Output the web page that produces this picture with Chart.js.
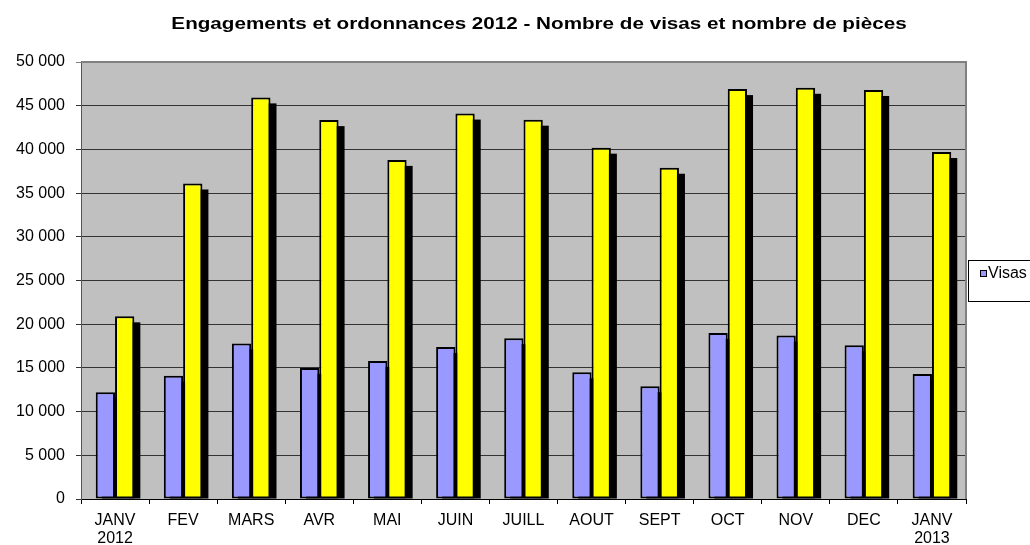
<!DOCTYPE html>
<html>
<head>
<meta charset="utf-8">
<script src="https://cdn.jsdelivr.net/npm/chart.js@4.4.1/dist/chart.umd.min.js"></script>
<style>
  html, body { margin: 0; padding: 0; background: #ffffff; }
  #wrap { width: 1030px; height: 545px; }
</style>
</head>
<body>
<div id="wrap"><canvas id="c" width="1030" height="545"></canvas></div>
<script>
const TITLE = 'Engagements et ordonnances 2012 - Nombre de visas et nombre de pièces';
const categories = [['JANV', '2012'], 'FEV', 'MARS', 'AVR', 'MAI', 'JUIN', 'JUILL', 'AOUT', 'SEPT', 'OCT', 'NOV', 'DEC', ['JANV', '2013']];
const seriesNames = ['Visas', 'Pièces'];
const visas  = [12200, 14100, 17800, 15000, 15800, 17400, 18400, 14500, 12900, 19000, 18700, 17600, 14300];
const pieces = [20900, 36100, 45950, 43350, 38800, 44100, 43400, 40200, 37900, 46900, 47050, 46800, 39700];
const yMin = 0, yMax = 50000, yStep = 5000;

const FONT = '"Liberation Sans", Arial, sans-serif';

function fmt(v) {
  return String(v).replace(/\B(?=(\d{3})+(?!\d))/g, ' ');
}

const backgroundPlugin = {
  id: 'plotBg',
  beforeDraw(chart) {
    const { ctx, chartArea: a } = chart;
    ctx.save();
    ctx.fillStyle = '#ffffff';
    ctx.fillRect(0, 0, chart.width, chart.height);
    ctx.fillStyle = '#C0C0C0';
    ctx.fillRect(a.left, a.top, a.right - a.left, a.bottom - a.top);
    ctx.restore();
  },
  beforeDatasetsDraw(chart) {
    const { ctx, chartArea: a } = chart;
    ctx.save();
    // plot border (top / right)
    ctx.strokeStyle = '#808080';
    ctx.lineWidth = 2;
    ctx.beginPath();
    ctx.moveTo(a.left, a.top);
    ctx.lineTo(a.right, a.top);
    ctx.lineTo(a.right, a.bottom);
    ctx.stroke();
    // drop shadows of bars
    ctx.fillStyle = '#000000';
    chart.data.datasets.forEach((ds, i) => {
      const meta = chart.getDatasetMeta(i);
      meta.data.forEach(bar => {
        const p = bar.getProps(['x', 'y', 'base', 'width'], true);
        const left = p.x - p.width / 2;
        const off = 6;
        ctx.fillRect(left + off, p.y + off, p.width, p.base - p.y - off);
      });
    });
    ctx.restore();
  },
  afterDraw(chart) {
    const { ctx } = chart;
    ctx.save();
    // title
    ctx.font = 'bold 16px ' + FONT;
    ctx.fillStyle = '#000000';
    ctx.textAlign = 'center';
    ctx.textBaseline = 'alphabetic';
    ctx.translate(539, 29);
    ctx.scale(1.29, 1);
    ctx.fillText(TITLE, 0, 0);
    ctx.restore();

    // legend (only first series shown, as in reference)
    ctx.save();
    ctx.strokeStyle = '#000000';
    ctx.lineWidth = 1;
    ctx.strokeRect(968.5, 260.5, 80, 41);
    const ds = chart.data.datasets[0];
    ctx.fillStyle = ds.backgroundColor;
    ctx.fillRect(980, 270, 7, 7);
    ctx.strokeRect(980.5, 270.5, 6, 6);
    ctx.fillStyle = '#000000';
    ctx.font = '16px ' + FONT;
    ctx.textAlign = 'left';
    ctx.textBaseline = 'middle';
    ctx.fillText(ds.label, 988, 274);
    ctx.restore();
  }
};

new Chart(document.getElementById('c'), {
  type: 'bar',
  data: {
    labels: categories,
    datasets: [
      {
        label: seriesNames[0],
        data: visas,
        backgroundColor: '#9999FF',
        borderColor: '#000000',
        borderWidth: 2,
        borderSkipped: false,
        categoryPercentage: 0.567,
        barPercentage: 1.0
      },
      {
        label: seriesNames[1],
        data: pieces,
        backgroundColor: '#FFFF00',
        borderColor: '#000000',
        borderWidth: 2,
        borderSkipped: false,
        categoryPercentage: 0.567,
        barPercentage: 1.0
      }
    ]
  },
  options: {
    responsive: false,
    animation: false,
    devicePixelRatio: 1,
    layout: { padding: { left: 0, right: 64, top: 62, bottom: 0 } },
    plugins: {
      legend: { display: false },
      title: { display: false },
      tooltip: { enabled: false }
    },
    scales: {
      x: {
        afterFit(scale) { scale.height = 46; },
        grid: {
          offset: true,
          drawOnChartArea: false,
          drawTicks: true,
          tickLength: 5,
          color: '#000000'
        },
        border: { color: '#000000', width: 1 },
        ticks: {
          font: { family: FONT, size: 16, lineHeight: 1.1 },
          color: '#000000',
          padding: 8,
          maxRotation: 0,
          autoSkip: false
        }
      },
      y: {
        min: yMin,
        max: yMax,
        afterFit(scale) { scale.width = 81; },
        grid: {
          color: (c) => (c.tick && c.tick.value === yMax) ? '#808080' : '#333333',
          lineWidth: 1,
          tickLength: 5,
          drawTicks: true
        },
        border: { color: '#555555', width: 1 },
        ticks: {
          stepSize: yStep,
          font: { family: FONT, size: 16 },
          color: '#000000',
          padding: 11,
          callback: (v) => fmt(v)
        }
      }
    }
  },
  plugins: [backgroundPlugin]
});
</script>
</body>
</html>
